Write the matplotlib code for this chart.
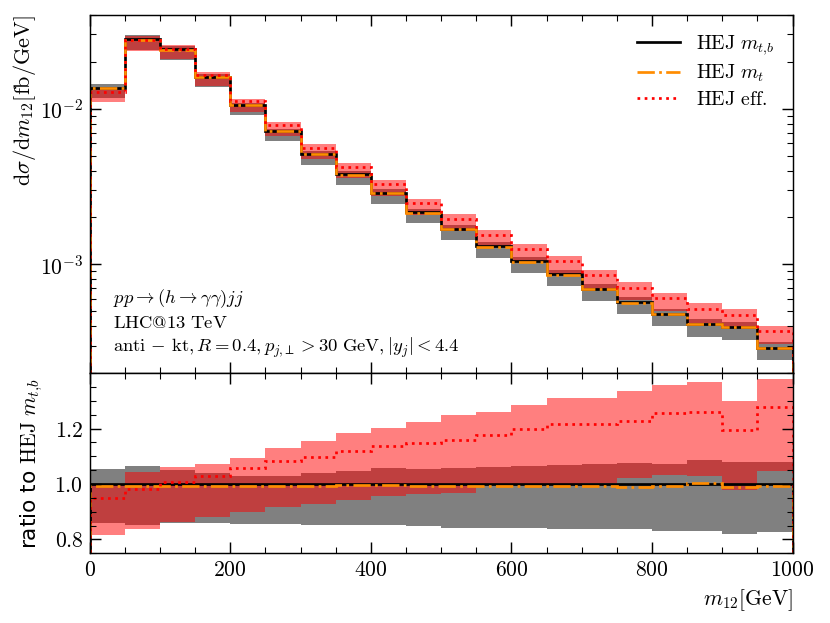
import numpy as np
import matplotlib
matplotlib.use("Agg")
import matplotlib.pyplot as plt
from matplotlib.ticker import FuncFormatter, MultipleLocator, NullFormatter, LogLocator, FixedLocator

plt.rcParams['mathtext.fontset'] = 'cm'
plt.rcParams['font.size'] = 12

# bins in m12 [GeV]
edges = np.arange(0, 1001, 50)

# HEJ m_tb central value [fb/GeV]
mtb = np.array([0.01358, 0.0280, 0.0241, 0.0160, 0.01056, 0.00723, 0.00513, 0.00379,
                0.00288, 0.00216, 0.00169, 0.00131, 0.00105, 0.000863, 0.000698,
                0.000573, 0.000483, 0.000411, 0.000397, 0.000292])

# scale band of m_tb, relative to m_tb
mtb_lo = np.array([0.858, 0.851, 0.858, 0.858, 0.857, 0.855, 0.851, 0.851, 0.851, 0.848,
                   0.842, 0.842, 0.840, 0.839, 0.839, 0.836, 0.830, 0.830, 0.818, 0.828])
mtb_hi = np.array([1.055, 1.064, 1.052, 1.040, 1.030, 1.030, 1.040, 1.048, 1.057, 1.055,
                   1.059, 1.061, 1.064, 1.067, 1.072, 1.074, 1.072, 1.088, 1.081, 1.079])

# HEJ m_t, relative to m_tb
mt = np.array([0.993, 0.993, 0.994, 0.993, 0.993, 0.992, 0.992, 0.995, 0.996, 0.993,
               0.994, 0.993, 0.993, 0.994, 0.994, 0.990, 0.994, 1.002, 0.990, 0.994])

# HEJ eff. and its band, relative to m_tb
eff = np.array([0.949, 0.980, 1.008, 1.028, 1.057, 1.082, 1.097, 1.119, 1.137, 1.149,
                1.160, 1.178, 1.200, 1.218, 1.218, 1.228, 1.257, 1.258, 1.194, 1.279])
eff_lo = np.array([0.815, 0.839, 0.862, 0.879, 0.899, 0.918, 0.927, 0.943, 0.958, 0.964,
                   0.967, 0.998, 1.000, 1.000, 1.002, 1.023, 1.033, 1.028, 0.979, 1.048])
eff_hi = np.array([0.998, 1.042, 1.061, 1.073, 1.093, 1.131, 1.155, 1.184, 1.202, 1.222,
                   1.248, 1.261, 1.285, 1.309, 1.311, 1.336, 1.358, 1.367, 1.300, 1.379])

fig = plt.figure(figsize=(830/130, 623/130), dpi=130)
gs = fig.add_gridspec(2, 1, height_ratios=[358, 180], hspace=0,
                      left=0.108, right=0.955, top=0.976, bottom=0.112)
ax = fig.add_subplot(gs[0])
rax = fig.add_subplot(gs[1], sharex=ax)

# main panel
ax.stairs(mtb*mtb_hi, edges, baseline=mtb*mtb_lo, fill=True, color='grey', lw=0)
ax.stairs(mtb*eff_hi, edges, baseline=mtb*eff_lo, fill=True, color='red', alpha=0.5, lw=0)
ax.stairs(mtb, edges, color='black', lw=1.5, label=r'$\mathrm{HEJ}\ m_{t{,}b}$')
ax.stairs(mtb*mt, edges, color='darkorange', lw=1.5, ls='-.', label=r'$\mathrm{HEJ}\ m_{t}$')
ax.stairs(mtb*eff, edges, color='red', lw=1.5, ls=':', label=r'$\mathrm{HEJ\ eff.}$')

ax.set_yscale('log')
ax.set_ylim(2e-4, 4e-2)
ax.set_ylabel(r'$\mathrm{d}\sigma/\mathrm{d}m_{12}[\mathrm{fb}/\mathrm{GeV}]$', loc='top', fontsize=12.3)
ax.yaxis.set_label_coords(-0.074, 1.0)
ax.yaxis.set_major_formatter(FuncFormatter(lambda v, p: r'$10^{%d}$' % round(np.log10(v))))
ax.yaxis.set_minor_formatter(NullFormatter())
ax.yaxis.set_minor_locator(LogLocator(subs=np.arange(2, 10)))
ax.tick_params(labelbottom=False)
ax.legend(loc='upper right', frameon=False, fontsize=11, handlelength=2.2, labelspacing=0.3)

ax.text(0.033, 0.038,
        r'$pp \to (h \to \gamma\gamma)jj$' + '\n' +
        r'$\mathrm{LHC@13\ TeV}$' + '\n' +
        r'$\mathrm{anti}\,-\,\mathrm{kt}, R = 0.4, p_{j{,}\perp} > 30\ \mathrm{GeV}, |y_j| < 4.4$',
        transform=ax.transAxes, ha='left', va='bottom', fontsize=10.3)

# ratio panel
rax.stairs(mtb_hi, edges, baseline=mtb_lo, fill=True, color='grey', lw=0)
rax.stairs(eff_hi, edges, baseline=eff_lo, fill=True, color='red', alpha=0.5, lw=0)
rax.stairs(np.ones_like(mtb), edges, color='black', lw=1.5)
rax.stairs(mt, edges, color='darkorange', lw=1.5, ls='-.')
rax.stairs(eff, edges, color='red', lw=1.5, ls=':')

rax.set_xlim(0, 1000)
rax.set_ylim(0.75, 1.4)
rax.set_ylabel(r'ratio to $\mathrm{HEJ}\ m_{t{,}b}$')
rax.yaxis.set_label_coords(-0.064, 0.5)
rax.set_xlabel(r'$m_{12}[\mathrm{GeV}]$', loc='right')
rax.xaxis.set_major_locator(MultipleLocator(200))
rax.xaxis.set_minor_locator(MultipleLocator(50))
rax.yaxis.set_major_locator(FixedLocator([0.8, 1.0, 1.2]))
rax.yaxis.set_minor_locator(MultipleLocator(0.05))
rax.xaxis.set_major_formatter(FuncFormatter(lambda v, p: r'$%d$' % v))
rax.yaxis.set_major_formatter(FuncFormatter(lambda v, p: r'$%.1f$' % v))

for a in (ax, rax):
    a.tick_params(which='both', direction='in', top=True, right=True)
    a.tick_params(which='major', length=6)
    a.tick_params(which='minor', length=3.5)

fig.savefig('out.png', dpi=130)
